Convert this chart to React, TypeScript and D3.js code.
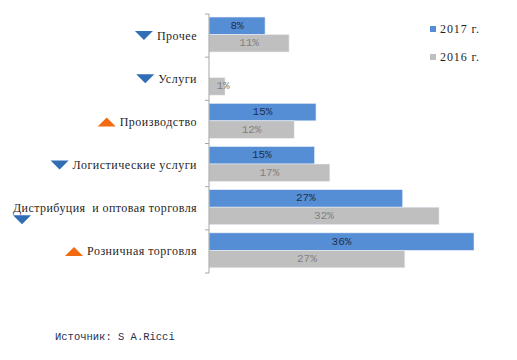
import React, { useEffect, useRef } from 'react';
import * as d3 from 'd3';

const categories = [
  'Прочее',
  'Услуги',
  'Производство',
  'Логистические услуги',
  'Дистрибуция  и оптовая торговля',
  'Розничная торговля',
];
const series = ['2017 г.', '2016 г.'];
const values2017 = [7.7, 0, 14.7, 14.5, 26.6, 36.4];
const values2016 = [11.0, 2.2, 11.7, 16.6, 31.6, 26.9];
const labels2017 = ['8%', '', '15%', '15%', '27%', '36%'];
const labels2016 = ['11%', '1%', '12%', '17%', '32%', '27%'];
const trend = ['down', 'down', 'up', 'down', 'down', 'up'];
const source = 'Источник: S A.Ricci';

const colors = ['#558ED5', '#BFBFBF'];
const labelColors = ['#1F2F50', '#7F7F7F'];

const W = 517;
const H = 360;

const App: React.FC = () => {
  const svgRef = useRef<SVGSVGElement>(null);

  useEffect(() => {
    if (!svgRef.current) return;
    const svg = d3.select(svgRef.current);
    svg.selectAll('*').remove();

    const x0 = 209;
    const x = d3.scaleLinear().domain([0, 36.4]).range([x0, 474]);
    const y = d3.scaleBand<string>().domain(categories).range([14, 273]);
    const bw = y.bandwidth();
    const inner = d3.scaleBand<string>().domain(series).range([bw * 0.07, bw * 0.88]);

    const data = [values2017, values2016];
    const labels = [labels2017, labels2016];

    // bars
    series.forEach((s, si) => {
      const g = svg.append('g');
      categories.forEach((c, ci) => {
        const v = data[si][ci];
        if (!v) return;
        const yy = (y(c) as number) + (inner(s) as number);
        g.append('rect')
          .attr('x', x(0))
          .attr('y', yy)
          .attr('width', x(v) - x(0))
          .attr('height', inner.bandwidth())
          .attr('fill', colors[si])
          .attr('stroke', '#E8EEF8')
          .attr('stroke-width', 0.6);
        const cx = Math.max((x(0) + x(v)) / 2, x(0) + 14);
        g.append('text')
          .attr('x', cx)
          .attr('y', yy + inner.bandwidth() / 2)
          .attr('text-anchor', 'middle')
          .attr('dominant-baseline', 'central')
          .attr('font-family', 'Liberation Mono, monospace')
          .attr('font-size', 11)
          .attr('fill', labelColors[si])
          .text(labels[si][ci]);
      });
    });

    // axis
    svg.append('line')
      .attr('x1', x0).attr('x2', x0)
      .attr('y1', 14).attr('y2', 273)
      .attr('stroke', '#A6A6A6').attr('stroke-width', 1);
    const ticks = categories.map(c => y(c) as number).concat([273]);
    ticks.forEach(t => {
      svg.append('line')
        .attr('x1', x0 - 4).attr('x2', x0)
        .attr('y1', t).attr('y2', t)
        .attr('stroke', '#A6A6A6').attr('stroke-width', 1);
    });

    // category labels with trend triangles
    const labelRight = 197;
    const maxLen = 184;
    categories.forEach((c, ci) => {
      const cy = (y(c) as number) + bw / 2;
      const txt = svg.append('text')
        .attr('x', labelRight)
        .attr('y', cy)
        .attr('text-anchor', 'end')
        .attr('dominant-baseline', 'central')
        .attr('font-family', 'Liberation Serif, serif')
        .attr('font-size', 12)
        .attr('letter-spacing', 0.5)
        .attr('fill', '#1F1F1F')
        .style('white-space', 'pre')
        .text(c);
      let len = (txt.node() as SVGTextElement).getComputedTextLength();
      if (len > maxLen - 30) {
        // long label: spread it over the room left of the axis
        txt.attr('letter-spacing', 0);
        const len0 = (txt.node() as SVGTextElement).getComputedTextLength();
        txt.attr('letter-spacing', (maxLen - len0) / c.length);
        len = maxLen;
      }
      const start = labelRight - len;
      const tw = 18;
      const th = 9;
      let tx = start - 4 - tw;
      let ty = cy - th / 2;
      if (tx < 8) {
        tx = start;
        ty = cy + 7;
      }
      const up = trend[ci] === 'up';
      const pts = up
        ? [[tx, ty + th], [tx + tw, ty + th], [tx + tw / 2, ty]]
        : [[tx, ty], [tx + tw, ty], [tx + tw / 2, ty + th]];
      svg.append('path')
        .attr('d', d3.line()(pts as [number, number][]) + 'Z')
        .attr('fill', up ? '#F26A10' : '#2F6DB5');
    });

    // legend
    series.forEach((s, si) => {
      const ly = 29 + si * 28;
      svg.append('rect')
        .attr('x', 430).attr('y', ly - 3)
        .attr('width', 6).attr('height', 6)
        .attr('fill', colors[si]);
      svg.append('text')
        .attr('x', 440).attr('y', ly)
        .attr('dominant-baseline', 'central')
        .attr('font-family', 'Liberation Serif, serif')
        .attr('font-size', 12)
        .attr('letter-spacing', 0.9)
        .attr('fill', '#1F1F1F')
        .text(s);
    });

    // source
    svg.append('text')
      .attr('x', 55).attr('y', 337)
      .attr('dominant-baseline', 'central')
      .attr('font-family', 'Liberation Mono, monospace')
      .attr('font-size', 10.5)
      .attr('fill', '#1F2F50')
      .text(source);
  }, []);

  return (
    <svg
      ref={svgRef}
      width={W}
      height={H}
      style={{ position: 'absolute', left: 0, top: 0, background: '#fff' }}
    />
  );
};

export default App;
